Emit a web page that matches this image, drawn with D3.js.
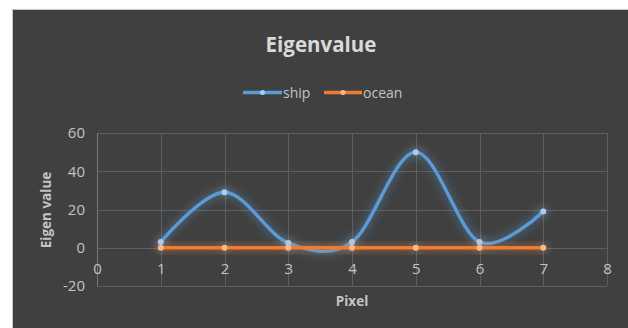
<!DOCTYPE html>
<html><head><meta charset="utf-8">
<script src="https://cdn.jsdelivr.net/npm/d3@7"></script>
<style>body{margin:0;background:#fff}svg{display:block}</style>
</head><body>
<svg id="c" width="628" height="328"></svg>
<script>
const pixels = [1, 2, 3, 4, 5, 6, 7];
const ship = [3, 29, 2.5, 3, 50, 3, 19];
const ocean = [0, 0, 0, 0, 0, 0, 0];
const xTicks = [0, 1, 2, 3, 4, 5, 6, 7, 8];
const yTicks = [-20, 0, 20, 40, 60];
const seriesNames = ["ship", "ocean"];
const colors = ["#5b9bd5", "#ed7d31"];
const markerColors = ["#a8cdf0", "#f7b98f"];

const svg = d3.select("#c");
const font = "'Open Sans', sans-serif";
const textCol = "#d9d9d9";
const tickCol = "#c4c4c4";

const defs = svg.append("defs");
const f = defs.append("filter").attr("id", "glow").attr("x", "-20%").attr("y", "-60%").attr("width", "140%").attr("height", "220%");
f.append("feGaussianBlur").attr("in", "SourceGraphic").attr("stdDeviation", 5).attr("result", "b");
f.append("feComponentTransfer").attr("in", "b").attr("result", "b2")
  .append("feFuncA").attr("type", "linear").attr("slope", 0.8);
const m = f.append("feMerge");
m.append("feMergeNode").attr("in", "b2");
m.append("feMergeNode").attr("in", "SourceGraphic");

svg.append("rect").attr("x", 13).attr("y", 10).attr("width", 615).attr("height", 318).attr("fill", "#404040");
svg.append("line").attr("x1", 12.5).attr("x2", 12.5).attr("y1", 9).attr("y2", 328).attr("stroke", "#c8c8c8").attr("stroke-width", 1);
svg.append("line").attr("x1", 12).attr("x2", 628).attr("y1", 9.5).attr("y2", 9.5).attr("stroke", "#c8c8c8").attr("stroke-width", 1);

const x = d3.scaleLinear().domain([0, 8]).range([97, 607]);
const y = d3.scaleLinear().domain([-20, 60]).range([286, 133]);

const grid = svg.append("g");
grid.selectAll(".h").data(yTicks).join("line")
  .attr("x1", x(0)).attr("x2", x(8)).attr("y1", d => Math.round(y(d)) + 0.5).attr("y2", d => Math.round(y(d)) + 0.5)
  .attr("stroke", "#5e5e5e").attr("stroke-width", 1);
grid.selectAll(".v").data(xTicks).join("line")
  .attr("y1", y(60)).attr("y2", y(-20)).attr("x1", d => Math.round(x(d)) + 0.5).attr("x2", d => Math.round(x(d)) + 0.5)
  .attr("stroke", d => d === 0 ? "#7a7a7a" : "#5e5e5e").attr("stroke-width", 1);

const yAxis = svg.append("g").attr("transform", `translate(${x(0) - 12},0)`)
  .call(d3.axisLeft(y).tickValues(yTicks).tickSize(0).tickPadding(0).tickFormat(d => String(d)));
yAxis.select(".domain").remove();
yAxis.selectAll("text").attr("fill", tickCol).style("font-family", font).style("font-size", "15px");

const xAxis = svg.append("g").attr("transform", `translate(0,${y(0) + 16})`)
  .call(d3.axisBottom(x).tickValues(xTicks).tickSize(0).tickPadding(0).tickFormat(d => String(d)));
xAxis.select(".domain").remove();
xAxis.selectAll("text").attr("fill", tickCol).style("font-family", font).style("font-size", "15px");

const line = d3.line().x((d, i) => x(pixels[i])).y(d => y(d)).curve(d3.curveCardinal.tension(0));
const data = [ship, ocean];
[0, 1].forEach(k => {
  const g = svg.append("g").attr("filter", "url(#glow)");
  g.append("path").datum(data[k]).attr("d", line).attr("fill", "none")
    .attr("stroke", colors[k]).attr("stroke-width", 3.4).attr("stroke-linecap", "round");
  g.selectAll("circle").data(data[k]).join("circle")
    .attr("cx", (d, i) => x(pixels[i])).attr("cy", d => y(d)).attr("r", 3)
    .attr("fill", markerColors[k]);
});

svg.append("text").attr("x", 321).attr("y", 52).attr("text-anchor", "middle")
  .attr("fill", textCol).style("font-family", font).style("font-weight", "bold").style("font-size", "20.5px")
  .text("Eigenvalue");

const legend = [{x0: 243, x1: 282, tx: 283}, {x0: 324, x1: 362, tx: 363}];
legend.forEach((l, k) => {
  svg.append("line").attr("x1", l.x0).attr("x2", l.x1).attr("y1", 92.5).attr("y2", 92.5)
    .attr("stroke", colors[k]).attr("stroke-width", 3.4);
  svg.append("circle").attr("cx", (l.x0 + l.x1) / 2).attr("cy", 92.5).attr("r", 2.5).attr("fill", markerColors[k]);
  svg.append("text").attr("x", l.tx).attr("y", 97.5).attr("fill", tickCol)
    .style("font-family", font).style("font-size", "14px").text(seriesNames[k]);
});

svg.append("text").attr("transform", "translate(51,210) rotate(-90)").attr("text-anchor", "middle")
  .attr("fill", tickCol).style("font-family", font).style("font-weight", "bold").style("font-size", "13.5px")
  .text("Eigen value");
svg.append("text").attr("x", 352).attr("y", 306).attr("text-anchor", "middle")
  .attr("fill", tickCol).style("font-family", font).style("font-weight", "bold").style("font-size", "13.5px")
  .text("Pixel");
</script>
</body></html>
